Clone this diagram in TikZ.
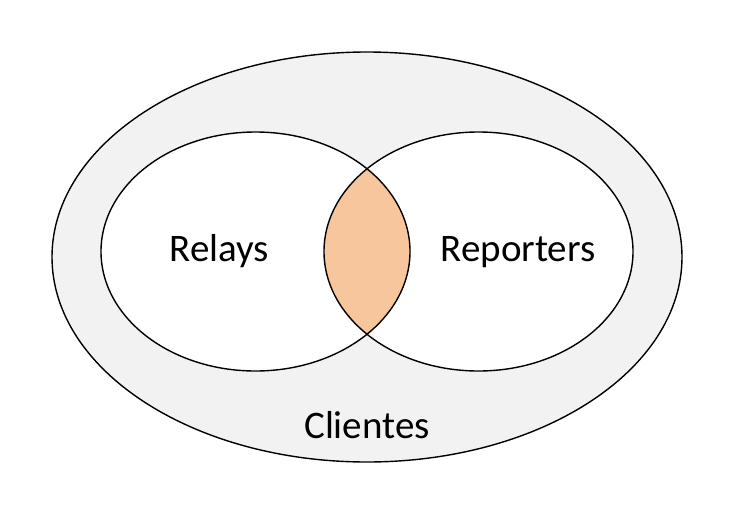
\documentclass[tikz,border=0pt]{standalone}
\usepackage{fontspec}
\setmainfont{Carlito}
\usetikzlibrary{positioning}
\definecolor{clientgray}{RGB}{242,242,242}
\definecolor{lenspeach}{RGB}{248,198,156}

\begin{document}
\begin{tikzpicture}[x=1pt,y=-1pt]

      \tikzstyle{setline}=[draw=black,line width=1.4pt]
      \tikzstyle{setlabel}=[anchor=base,inner sep=0pt,
        font=\fontsize{39}{46}\selectfont]

      \useasboundingbox (0,0) rectangle (736,517);

      \coordinate (RELAYS) at (255.5,251.5);
      \coordinate (REPORTERS) at (478.5,251.5);
      \coordinate (CLIENTES) at (367,257);

      \fill [clientgray] (CLIENTES) ellipse [x radius=315,y radius=205];
      \draw [setline] (CLIENTES) ellipse [x radius=315,y radius=205];

      \fill [white] (RELAYS) ellipse [x radius=154.5,y radius=119.5];
      \fill [white] (REPORTERS) ellipse [x radius=154.5,y radius=119.5];

      \begin{scope}
        \clip (RELAYS) ellipse [x radius=154.5,y radius=119.5];
        \fill [lenspeach] (REPORTERS) ellipse [x radius=154.5,y radius=119.5];
      \end{scope}

      \draw [setline] (RELAYS) ellipse [x radius=154.5,y radius=119.5];
      \draw [setline] (REPORTERS) ellipse [x radius=154.5,y radius=119.5];

      \node (Relays1)[setlabel] at (219.5,261) {Relays};
      \node (Reporters1)[setlabel] at (518,261) {Reporters};
      \node (Clientes1)[setlabel] at (367,438) {Clientes};

    \end{tikzpicture}
\end{document}
